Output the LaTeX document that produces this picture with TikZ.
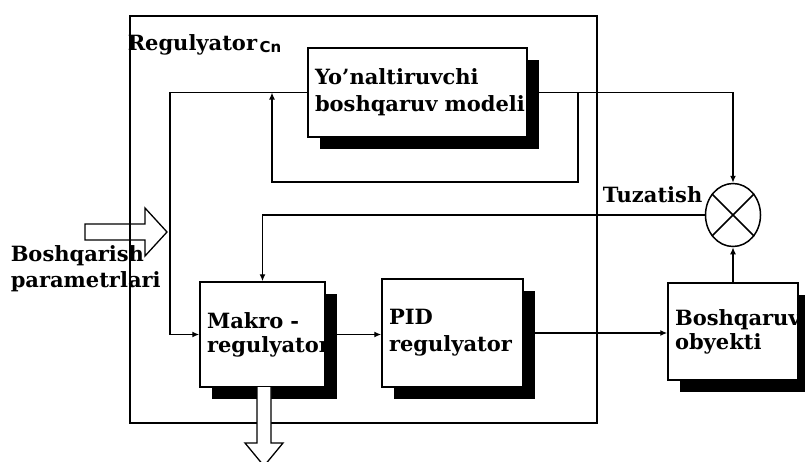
\documentclass[tikz,border=0pt]{standalone}
\usepackage{fontspec}
\setmainfont{DejaVu Serif}
\newfontfamily\cnfont{DejaVu Sans}
\usetikzlibrary{arrows.meta,shadows,shapes.geometric}
\begin{document}
\begin{tikzpicture}[x=1pt,y=-1pt,
  line width=1.5pt,
  txt/.style={font=\fontsize{21}{27}\selectfont\bfseries, inner sep=0pt, align=left},
  blk/.style={draw, fill=white, line width=1.5pt, align=left, inner xsep=7pt, inner ysep=0pt,
    font=\fontsize{21}{27}\selectfont\bfseries,
    drop shadow={shadow xshift=12pt, shadow yshift=-12pt, fill=black, opacity=1}},
  arr/.style={-{Latex[length=7pt,width=6pt]}},
]
\useasboundingbox (0,0) rectangle (805,461);
\clip (0,0) rectangle (805,461);
\fill[white] (0,0) rectangle (805,461);

% outer regulator frame
\node[draw, line width=1.5pt, minimum width=467pt, minimum height=407pt, inner sep=0pt] (reg) at (363.5,219.5) {};
\node[txt, anchor=base west] (reglab) at (127,50) {Regulyator};
\node[inner sep=0pt, anchor=base west, font=\cnfont\fontsize{15}{17}\selectfont\bfseries] (cn) at ([xshift=1pt,yshift=-2pt]reglab.base east) {Cn};

% input hollow arrow
\draw[line width=1.3pt] (85,224) -- (145,224) -- (145,208) -- (167,232) -- (145,256) -- (145,240) -- (85,240) -- cycle;
\node[txt, anchor=base west] (inlab) at (10,287) {Boshqarish\\[-1pt]parametrlari};

% blocks
\node[blk, minimum width=219pt, minimum height=89pt, text width=205pt] (model) at (417.5,92.5) {\mbox{Yo'naltiruvchi}\\\mbox{boshqaruv modeli}};
\node[blk, minimum width=125pt, minimum height=105pt, text width=111pt] (makro) at (262.5,334.5) {\mbox{Makro -}\\[-3pt]\mbox{regulyator}};
\node[blk, minimum width=141pt, minimum height=108pt, text width=127pt] (pid) at (452.5,333) {\mbox{PID}\\\mbox{regulyator}};
\node[blk, minimum width=130pt, minimum height=97pt, text width=116pt] (obj) at (733,331.5) {\mbox{Boshqaruv}\\[-3pt]\mbox{obyekti}};

% summing junction
\node[draw, ellipse, line width=1.5pt, minimum width=55pt, minimum height=63pt, inner sep=0pt] (sum) at (733,215) {};
\draw (sum.45) -- (sum.225);
\draw (sum.135) -- (sum.315);
\node[txt, anchor=base east] (tuz) at (703,202) {Tuzatish};

% coordinates
\coordinate (inA) at (170,92.5);
\coordinate (fbA) at (578,92.5);
\coordinate (fbB) at (578,182);
\coordinate (fbC) at (272,182);
\coordinate (fbD) at (272,92.5);

% connectors
\draw[arr] (model.west) -- (inA) |- (makro.west);
\draw[arr] (model.east) -| (sum.north);
\draw[arr] (fbA) -- (fbB) -- (fbC) -- (fbD);
\draw[arr] (sum.west) -| (makro.north);
\draw[arr] (makro.east) -- (makro.east -| pid.west);
\draw[arr] (pid.east) -- (pid.east -| obj.west);
\draw[arr] (obj.north) -- (sum.south);

% output hollow arrow
\fill[white] (257,387) -- (257,443) -- (245,443) -- (264,466) -- (283,443) -- (271,443) -- (271,387) -- cycle;
\draw[line width=1.3pt] (257,387) -- (257,443) -- (245,443) -- (264,466) -- (283,443) -- (271,443) -- (271,387);
\end{tikzpicture}
\end{document}
